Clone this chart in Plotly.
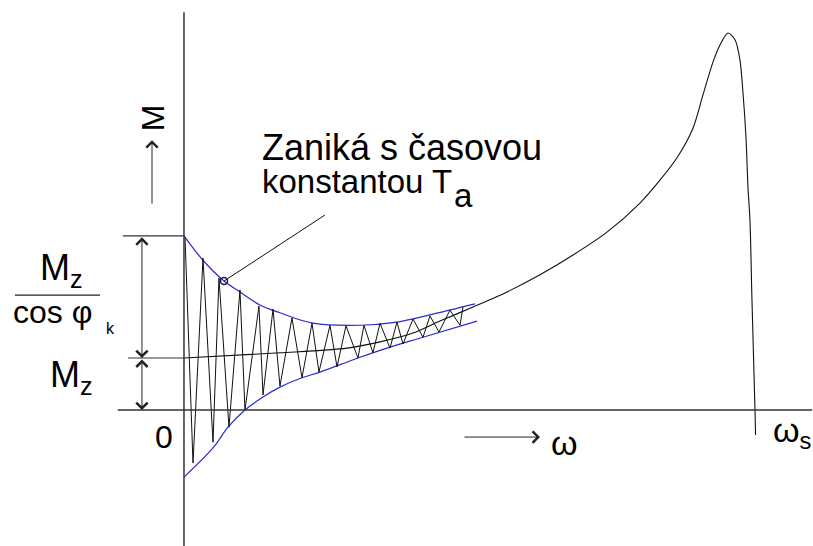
import plotly.graph_objects as go

# Units: speed in % of synchronous speed (omega_s = 100), torque in multiples of M_z
M_Z = 1.0
M_START = 3.35          # M_z / cos(phi_k)
OMEGA_S = 100.0

# Static torque-speed characteristic
omega_static = [0.0, 16.81, 28.55, 34.33, 40.11, 44.83, 50.61, 56.57, 62.35, 68.13,
                74.08, 79.86, 83.36, 86.34, 89.14, 90.89, 92.64, 93.87, 95.27, 96.50,
                97.37, 97.90, 98.42, 98.77, 99.12, 99.47, 100.0, 100.1]
torque_static = [1.00, 1.10, 1.19, 1.31, 1.48, 1.71, 1.98, 2.27, 2.60, 2.98,
                 3.42, 3.98, 4.42, 4.85, 5.42, 6.06, 6.69, 7.02, 7.25, 7.12,
                 6.73, 6.10, 5.25, 4.29, 3.65, 2.12, 0.00, -0.48]

# Envelopes of the decaying transient torque
omega_upper = [0.0, 3.33, 7.01, 9.81, 13.31, 16.81, 22.59, 30.82, 37.30, 43.08, 50.96]
m_upper = [3.35, 2.88, 2.48, 2.27, 2.02, 1.87, 1.67, 1.63, 1.69, 1.83, 2.04]

omega_lower = [0.0, 5.08, 7.71, 10.68, 13.84, 16.81, 20.67, 23.82, 30.47, 36.08, 41.86, 51.31]
m_lower = [-1.29, -0.73, -0.33, 0.00, 0.25, 0.44, 0.62, 0.73, 1.00, 1.21, 1.40, 1.71]

# Oscillating transient torque (alternating peaks and troughs)
omega_osc = [0.18, 1.58, 3.33, 5.08, 6.13, 7.88, 9.81, 10.68, 13.13, 13.84,
             15.59, 16.81, 18.91, 20.67, 22.42, 23.64, 25.57, 26.80, 28.37, 30.47,
             31.52, 33.10, 34.33, 36.08, 37.30, 38.35, 40.11, 41.86, 43.08, 44.66,
             46.58, 48.34, 48.86]
m_osc = [3.33, -1.02, 2.92, -0.62, 2.54, -0.33, 2.31, 0.00, 2.00, 0.29,
         1.94, 0.46, 1.77, 0.62, 1.67, 0.73, 1.63, 0.83, 1.62, 1.00,
         1.63, 1.10, 1.67, 1.19, 1.69, 1.27, 1.75, 1.40, 1.81, 1.50,
         1.92, 1.63, 1.98]

# Point on the upper envelope referenced by the note
note_point = (7.01, 2.48)
note_anchor = (24.69, 3.75)

BLUE = "#2b2bd2"
FONT = "Liberation Sans, Arial, sans-serif"

fig = go.Figure()

fig.add_trace(go.Scatter(x=omega_upper, y=m_upper, mode="lines",
                         line=dict(color=BLUE, width=1.2, shape="spline", smoothing=1.0),
                         hoverinfo="skip"))
fig.add_trace(go.Scatter(x=omega_lower, y=m_lower, mode="lines",
                         line=dict(color=BLUE, width=1.2, shape="spline", smoothing=1.0),
                         hoverinfo="skip"))
fig.add_trace(go.Scatter(x=omega_osc, y=m_osc, mode="lines",
                         line=dict(color="#111111", width=1.0),
                         hoverinfo="skip"))
fig.add_trace(go.Scatter(x=omega_static, y=torque_static, mode="lines",
                         line=dict(color="#111111", width=1.1, shape="spline", smoothing=0.8),
                         hoverinfo="skip"))
# Leader line of the note with its small ring marker
fig.add_trace(go.Scatter(x=[note_point[0], note_anchor[0]], y=[note_point[1], note_anchor[1]],
                         mode="lines", line=dict(color="#111111", width=1.0),
                         hoverinfo="skip"))
fig.add_trace(go.Scatter(x=[note_point[0]], y=[note_point[1]], mode="markers",
                         marker=dict(size=7, color="rgba(0,0,0,0)",
                                     line=dict(color="#1a1a50", width=1.5)),
                         hoverinfo="skip"))

AX = "#333333"
shapes = [
    # axes
    dict(type="line", x0=-11.6, x1=110.0, y0=0, y1=0, line=dict(color=AX, width=1.5)),
    dict(type="line", x0=0, x1=0, y0=-2.8, y1=7.65, line=dict(color=AX, width=1.5)),
    # extension lines for the dimension arrows
    dict(type="line", x0=-10.7, x1=0, y0=M_START, y1=M_START, line=dict(color=AX, width=1.2)),
    dict(type="line", x0=-9.8, x1=0, y0=M_Z, y1=M_Z, line=dict(color=AX, width=1.2)),
    # fraction bar
    dict(type="line", x0=-29.6, x1=-14.7, y0=2.21, y1=2.21, line=dict(color="#222222", width=1.2)),
]

def arrow(x0, y0, x1, y1, both=False):
    return dict(x=x1, y=y1, ax=x0, ay=y0, xref="x", yref="y", axref="x", ayref="y",
                text="", showarrow=True, arrowhead=4, arrowsize=2.2, arrowwidth=1,
                arrowcolor="#222222", startarrowhead=4, startarrowsize=2.2,
                arrowside="end+start" if both else "end")

def label(x, y, text, size, xanchor="left", angle=0):
    return dict(x=x, y=y, xref="x", yref="y", text=text, showarrow=False,
                xanchor=xanchor, yanchor="middle", textangle=angle,
                font=dict(family=FONT, size=size, color="#000000"))

annotations = [
    arrow(-7.36, M_START, -7.36, M_Z, both=True),
    arrow(-7.36, M_Z, -7.36, 0.0, both=True),
    arrow(-5.6, 3.94, -5.6, 5.19),
    arrow(48.86, -0.52, 62.35, -0.52),
    label(-5.43, 5.63, "M", 32, xanchor="center", angle=-90),
    label(13.31, 5.05, "Zaniká s časovou", 36),
    label(13.31, 4.40, "konstantou T", 33),
    label(47.0, 4.12, "a", 33),
    label(-25.57, 2.70, "M<sub>z</sub>", 36),
    label(-30.3, 1.88, "cos φ", 32),
    label(-14.0, 1.57, "k", 16),
    label(-23.82, 0.63, "M<sub>z</sub>", 36),
    label(-3.50, -0.51, "0", 32, xanchor="center"),
    label(63.92, -0.64, "ω", 34),
    label(102.8, -0.44, "ω<sub>s</sub>", 34),
]

fig.update_layout(
    width=813, height=546,
    margin=dict(l=0, r=0, t=0, b=0),
    paper_bgcolor="white", plot_bgcolor="white",
    showlegend=False,
    xaxis=dict(visible=False, range=[-32.22, 110.16], fixedrange=True),
    yaxis=dict(visible=False, range=[-2.615, 7.885], fixedrange=True),
    shapes=shapes,
    annotations=annotations,
)

fig.write_html("out.html")
